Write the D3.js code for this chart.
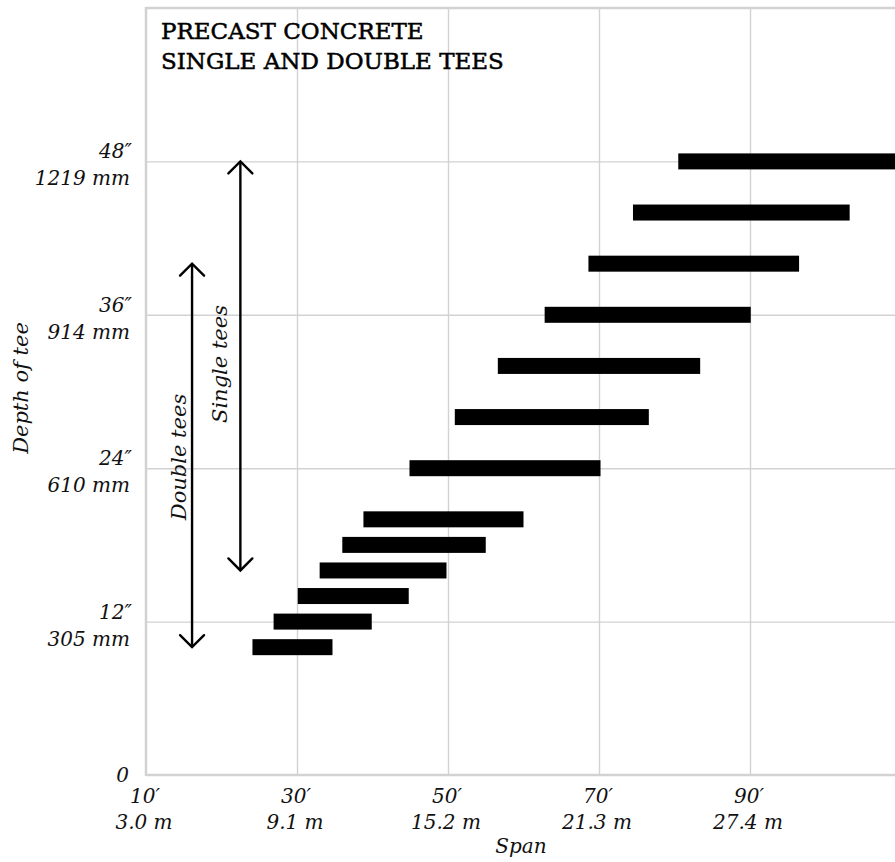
<!DOCTYPE html>
<html>
<head>
<meta charset="utf-8">
<script src="https://cdn.jsdelivr.net/npm/d3@7"></script>
<style>
  html, body { margin: 0; padding: 0; background: #fff; }
  svg { display: block; }
  .lbl { font-family: "DejaVu Serif", serif; font-style: italic; fill: #111; }
</style>
</head>
<body>
<svg id="chart" width="895" height="862"></svg>
<script>
// ---- Data ----
const depthIn   = [10, 12, 14, 16, 18, 20, 24, 28, 32, 36, 40, 44, 48];
const spanStart = [24.1, 26.9, 30.1, 33, 36, 38.8, 44.9, 50.9, 56.6, 62.8, 68.6, 74.5, 80.5];
const spanEnd   = [34.7, 39.9, 44.8, 49.8, 55, 60, 70.2, 76.6, 83.4, 90.1, 96.5, 103.2, 110];

const xTicks      = [10, 30, 50, 70, 90];
const xTickFeet   = ["10′", "30′", "50′", "70′", "90′"];
const xTickMetric = ["3.0 m", "9.1 m", "15.2 m", "21.3 m", "27.4 m"];

const yTicks      = [12, 24, 36, 48];
const yTickInch   = ["12″", "24″", "36″", "48″"];
const yTickMetric = ["305 mm", "610 mm", "914 mm", "1219 mm"];

const arrowLabels = ["Double tees", "Single tees"];
const arrowSpan   = [16.1, 22.5];
const arrowFrom   = [10, 16];
const arrowTo     = [40, 48];

const titleLines = ["PRECAST CONCRETE", "SINGLE AND DOUBLE TEES"];

// ---- Scales ----
const svg = d3.select("#chart");
const x = d3.scaleLinear().domain([10, 110]).range([146, 901]);
const y = d3.scaleLinear().domain([0, 60]).range([775, 8]);

const grid = "#d2d2d2";

// gridlines via axes
const gx = svg.append("g").attr("transform", `translate(0,${y(0)})`)
  .call(d3.axisBottom(x).tickValues(xTicks.slice(1)).tickSize(-(y(0) - y(60))).tickFormat(""));
gx.select(".domain").remove();
gx.selectAll(".tick line").attr("stroke", grid).attr("stroke-width", 1.4);

const gy = svg.append("g").attr("transform", `translate(${x(10)},0)`)
  .call(d3.axisLeft(y).tickValues(yTicks).tickSize(-(900 - x(10))).tickFormat(""));
gy.select(".domain").remove();
gy.selectAll(".tick line").attr("stroke", grid).attr("stroke-width", 1.4);

// frame (left, bottom, top)
svg.append("line").attr("x1", x(10)).attr("x2", 895).attr("y1", y(60)).attr("y2", y(60))
  .attr("stroke", grid).attr("stroke-width", 2.5);
svg.append("line").attr("x1", x(10)).attr("x2", 895).attr("y1", y(0)).attr("y2", y(0))
  .attr("stroke", grid).attr("stroke-width", 2.5);
svg.append("line").attr("x1", x(10)).attr("x2", x(10)).attr("y1", y(60) - 1).attr("y2", y(0) + 1)
  .attr("stroke", grid).attr("stroke-width", 2.5);

// bars
const barH = 16;
svg.append("g").selectAll("rect").data(depthIn).join("rect")
  .attr("x", (d, i) => x(spanStart[i]))
  .attr("width", (d, i) => x(spanEnd[i]) - x(spanStart[i]))
  .attr("y", d => y(d) - barH / 2)
  .attr("height", barH)
  .attr("fill", "#000");

// arrows
const ah = 12, aw = 12;
arrowLabels.forEach((lab, i) => {
  const ax = x(arrowSpan[i]);
  const yTop = y(arrowTo[i]), yBot = y(arrowFrom[i]);
  const g = svg.append("g").attr("stroke", "#000").attr("stroke-width", 2.4).attr("fill", "none")
    .attr("stroke-linecap", "round").attr("stroke-linejoin", "miter");
  g.append("line").attr("x1", ax).attr("x2", ax).attr("y1", yTop + 1).attr("y2", yBot - 1);
  g.append("path").attr("d", `M${ax - aw},${yTop + ah} L${ax},${yTop} L${ax + aw},${yTop + ah}`);
  g.append("path").attr("d", `M${ax - aw},${yBot - ah} L${ax},${yBot} L${ax + aw},${yBot - ah}`);
});
// arrow labels
svg.append("text").attr("class", "lbl").attr("font-size", 21)
  .attr("text-anchor", "middle")
  .attr("transform", `translate(186,457) rotate(-90)`)
  .text(arrowLabels[0]);
svg.append("text").attr("class", "lbl").attr("font-size", 21)
  .attr("text-anchor", "middle")
  .attr("transform", `translate(227,364) rotate(-90)`)
  .text(arrowLabels[1]);

// y tick labels
yTicks.forEach((t, i) => {
  svg.append("text").attr("class", "lbl").attr("font-size", 20).attr("text-anchor", "end")
    .attr("x", 132).attr("y", y(t) - 3).text(yTickInch[i]);
  svg.append("text").attr("class", "lbl").attr("font-size", 20).attr("text-anchor", "end")
    .attr("x", 130).attr("y", y(t) + 24).text(yTickMetric[i]);
});
svg.append("text").attr("class", "lbl").attr("font-size", 20).attr("text-anchor", "end")
  .attr("x", 129).attr("y", y(0) + 7).text("0");

// x tick labels
xTicks.forEach((t, i) => {
  svg.append("text").attr("class", "lbl").attr("font-size", 20).attr("text-anchor", "middle")
    .attr("x", x(t) - 1).attr("y", 803).text(xTickFeet[i]);
  svg.append("text").attr("class", "lbl").attr("font-size", 20).attr("text-anchor", "middle")
    .attr("x", x(t) - 2).attr("y", 829).text(xTickMetric[i]);
});

// axis titles
svg.append("text").attr("class", "lbl").attr("font-size", 20).attr("text-anchor", "middle")
  .attr("x", 521).attr("y", 853).text("Span");
svg.append("text").attr("class", "lbl").attr("font-size", 21).attr("text-anchor", "middle")
  .attr("transform", "translate(28,388) rotate(-90)").text("Depth of tee");

// title
titleLines.forEach((t, i) => {
  svg.append("text")
    .attr("x", 161).attr("y", 39 + i * 30)
    .attr("font-family", "DejaVu Serif, serif").attr("font-size", 23)
    .attr("fill", "#000").attr("stroke", "#000").attr("stroke-width", 0.5)
    .text(t);
});
</script>
</body>
</html>
